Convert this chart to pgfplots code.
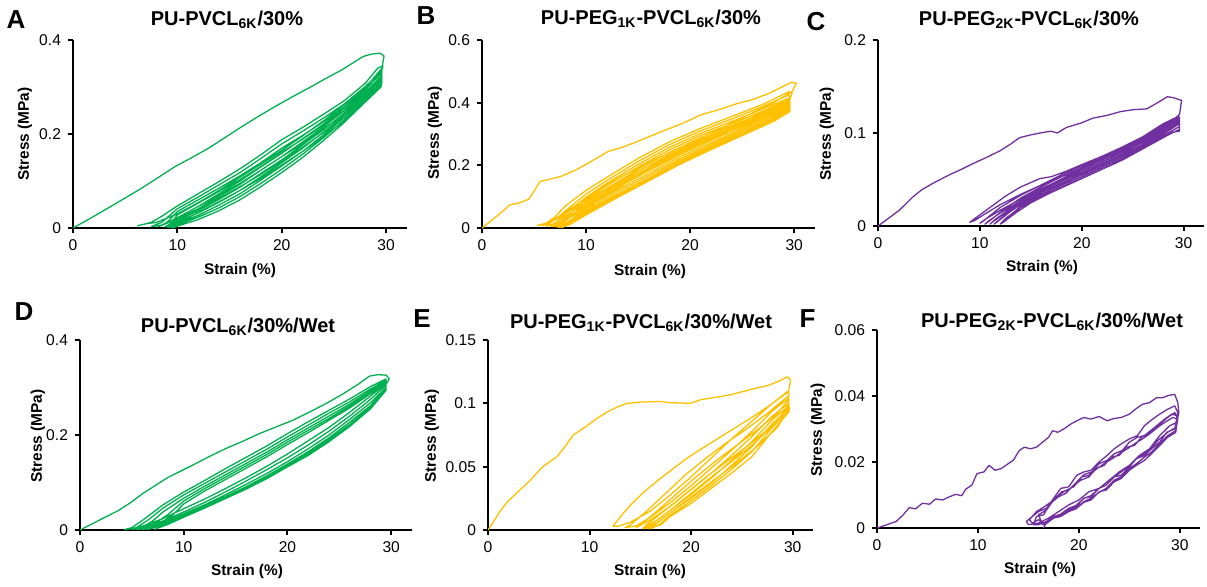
\documentclass[border=0pt]{standalone}
\usepackage{pgfplots}
\pgfplotsset{compat=1.18}
\usepackage{fontspec}
\setmainfont{Liberation Sans}
\setsansfont{Liberation Sans}

\definecolor{cgreen}{RGB}{0,176,80}
\definecolor{cyellow}{RGB}{255,192,0}
\definecolor{cpurple}{RGB}{112,48,160}

\pgfplotsset{
  panel/.style={
    scale only axis,
    axis lines=left,
    axis line style={line width=1.3pt,-},
    xmin=0, xmax=32, ymin=0,
    xtick={0,10,20,30},
    tick align=outside,
    major tick length=2.5pt,
    tick style={black,line width=1pt},
    ticklabel style={font=\fontsize{7.8}{9}\selectfont},
    scaled y ticks=false,
    /pgf/number format/assume math mode=true,
    /pgf/number format/fixed,
    /pgf/number format/precision=2,
    anchor=south west,
  },
  loop/.style={line width=0.65pt, line join=round, no markers},
}
\newcommand\ttl[1]{\fontsize{10}{12}\selectfont\bfseries #1}
\newcommand\lab{\fontsize{7.7}{9}\selectfont\bfseries}
\newcommand\letter{\fontsize{13}{15}\selectfont\bfseries}

\begin{document}
\begin{tikzpicture}

% ---------------- A ----------------
\begin{axis}[panel, at={(36.5pt,-114pt)}, width=167pt, height=94pt,
  ymax=0.4, ytick={0,0.2,0.4}]
\addplot[loop, cgreen] coordinates {
(0,0)(1.7,0.021)(3.4,0.043)(5,0.064)(6.6,0.085)(8.2,0.108)(9.8,0.131)(11.4,0.15)(13,0.17)(14.6,0.193)(16.2,0.216)(17.8,0.238)(19.4,0.259)(21,0.279)(22.6,0.298)(24.2,0.318)(25.8,0.337)(26.8,0.351)(27.8,0.365)(28.6,0.37)(29.4,0.372)(29.8,0.366)
(29.6,0.34)(28,0.298)(26,0.262)(24,0.228)(22,0.196)(20,0.165)(18,0.136)(16,0.108)(14,0.08)(12,0.054)(10,0.03)(8,0.012)(7,0.009)(6.2,0.005)
(6.8,0.008)(7.5,0.012)(8.5,0.025)(10,0.047)(12,0.073)(14,0.099)(16,0.126)(18,0.156)(20,0.188)(22,0.214)(24,0.242)(26,0.271)(28,0.308)(29.2,0.34)(29.7,0.345)
(29.5,0.33)(28,0.293)(26,0.255)(24,0.221)(22,0.19)(20,0.159)(18,0.13)(16,0.1)(14,0.073)(12,0.046)(10,0.022)(8.5,0.006)(7.5,0.003)
(8.5,0.012)(10,0.041)(12,0.066)(14,0.092)(16,0.118)(18,0.148)(20,0.179)(22,0.206)(24,0.234)(26,0.264)(28,0.301)(29.6,0.335)
(29.5,0.32)(28,0.289)(26,0.25)(24,0.215)(22,0.183)(20,0.152)(18,0.123)(16,0.093)(14,0.067)(12,0.041)(10,0.019)(8.2,0.003)
(9,0.012)(10,0.035)(12,0.06)(14,0.085)(16,0.111)(18,0.139)(20,0.17)(22,0.197)(24,0.226)(26,0.257)(28,0.295)(29.6,0.33)
(29.5,0.315)(28,0.285)(26,0.245)(24,0.209)(22,0.177)(20,0.145)(18,0.116)(16,0.087)(14,0.061)(12,0.037)(10,0.016)(8.8,0.002)
(9.4,0.01)(10,0.028)(12,0.053)(14,0.078)(16,0.103)(18,0.131)(20,0.161)(22,0.189)(24,0.219)(26,0.25)(28,0.288)(29.6,0.325)
(29.5,0.31)(28,0.28)(26,0.24)(24,0.204)(22,0.17)(20,0.139)(18,0.109)(16,0.08)(14,0.055)(12,0.032)(10,0.013)(9.1,0.001)
(10,0.022)(12,0.046)(14,0.07)(16,0.095)(18,0.123)(20,0.152)(22,0.18)(24,0.211)(26,0.242)(28,0.281)(29.6,0.32)
(29.5,0.305)(28,0.276)(26,0.235)(24,0.198)(22,0.163)(20,0.132)(18,0.102)(16,0.073)(14,0.049)(12,0.027)(10,0.01)(9.3,0.001)
(10,0.016)(12,0.04)(14,0.063)(16,0.088)(18,0.114)(20,0.143)(22,0.172)(24,0.203)(26,0.235)(28,0.275)(29.6,0.315)
(29.5,0.302)(28,0.272)(26,0.23)(24,0.192)(22,0.157)(20,0.125)(18,0.095)(16,0.067)(14,0.043)(12,0.023)(10,0.007)(9.5,0.0)
(10,0.01)(12,0.033)(14,0.056)(16,0.08)(18,0.106)(20,0.134)(22,0.163)(24,0.195)(26,0.228)(28,0.268)(29.6,0.31)
(29.5,0.3)(28,0.268)(26,0.225)(24,0.186)(22,0.15)(20,0.118)(18,0.088)(16,0.06)(14,0.037)(12,0.018)(10,0.004)(9.6,0.0)
};
\end{axis}

% ---------------- B ----------------
\begin{axis}[panel, at={(241pt,-114pt)}, width=166.5pt, height=94pt,
  ymax=0.6, ytick={0,0.2,0.4,0.6}]
\addplot[loop, cyellow] coordinates {
(0,0)(1.5,0.04)(2.7,0.074)(3.6,0.08)(4.5,0.092)(5.6,0.149)(6.3,0.154)(7.6,0.165)(9,0.185)(10.2,0.207)(12.1,0.244)(13.5,0.258)(14.7,0.273)(16.9,0.303)(19.2,0.333)(21.1,0.362)(22.5,0.375)(24.4,0.396)(26,0.41)(27.6,0.43)(29.3,0.458)(29.7,0.465)(30.2,0.462)
(29.8,0.435)(28,0.4)(26,0.368)(24,0.335)(22,0.302)(20,0.272)(18,0.24)(16,0.208)(14,0.175)(12,0.138)(10,0.095)(8,0.05)(6.5,0.018)(5.3,0.008)
(6,0.012)(7,0.035)(8,0.07)(10,0.12)(12,0.162)(15,0.222)(18,0.275)(21,0.318)(24,0.356)(27,0.395)(29.5,0.435)(29.8,0.43)
(29.5,0.405)(28,0.385)(25,0.338)(22,0.292)(19,0.248)(16,0.198)(13,0.145)(10,0.088)(8,0.045)(6.5,0.016)(5.8,0.008)
(6.5,0.014)(7.5,0.04)(8.5,0.068)(10,0.108)(12,0.152)(15,0.212)(18,0.266)(21,0.31)(24,0.348)(27,0.388)(29.5,0.425)
(29.6,0.41)(28,0.378)(25,0.332)(22,0.286)(19,0.241)(16,0.19)(13,0.138)(10,0.08)(8,0.038)(6.8,0.012)(6.2,0.006)
(7,0.014)(8,0.045)(10,0.098)(12,0.143)(15,0.203)(18,0.257)(21,0.302)(24,0.34)(27,0.38)(29.5,0.415)
(29.6,0.4)(28,0.37)(25,0.325)(22,0.279)(19,0.234)(16,0.182)(13,0.13)(10,0.072)(8,0.03)(7,0.01)(6.6,0.005)
(7.3,0.012)(8.2,0.038)(10,0.09)(12,0.135)(15,0.195)(18,0.249)(21,0.295)(24,0.333)(27,0.373)(29.5,0.41)
(29.6,0.395)(28,0.363)(25,0.318)(22,0.272)(19,0.227)(16,0.174)(13,0.122)(10,0.065)(8,0.024)(7.2,0.008)(6.9,0.004)
(7.6,0.012)(8.5,0.035)(10,0.082)(12,0.127)(15,0.187)(18,0.241)(21,0.288)(24,0.327)(27,0.366)(29.5,0.4)
(29.6,0.388)(28,0.357)(25,0.312)(22,0.266)(19,0.22)(16,0.167)(13,0.115)(10,0.058)(8.5,0.025)(7.5,0.006)(7.2,0.003)
(7.8,0.01)(8.8,0.032)(10,0.075)(12,0.12)(15,0.18)(18,0.234)(21,0.282)(24,0.321)(27,0.36)(29.5,0.395)
(29.6,0.383)(28,0.351)(25,0.306)(22,0.26)(19,0.214)(16,0.16)(13,0.108)(10,0.052)(8.5,0.02)(7.6,0.004)(7.4,0.002)
(8,0.01)(9,0.03)(10,0.068)(12,0.113)(15,0.173)(18,0.228)(21,0.276)(24,0.316)(27,0.355)(29.5,0.39)
(29.6,0.378)(28,0.346)(25,0.3)(22,0.255)(19,0.208)(16,0.154)(13,0.102)(10,0.046)(8.5,0.015)(7.7,0.002)
(8.2,0.008)(9.2,0.028)(10,0.062)(12,0.107)(15,0.167)(18,0.222)(21,0.27)(24,0.31)(27,0.35)(29.5,0.385)
(29.6,0.372)(28,0.34)(25,0.295)(22,0.25)(19,0.203)(16,0.15)(13,0.097)(10,0.042)(8.5,0.012)(7.6,0.002)
};
\end{axis}

% ---------------- C ----------------
\begin{axis}[panel, at={(439pt,-113pt)}, width=163pt, height=93pt,
  ymax=0.2, ytick={0,0.1,0.2}]
\addplot[loop, cpurple] coordinates {
(0,0)(1,0.008)(2.1,0.017)(3.4,0.031)(4.3,0.039)(5.4,0.046)(7,0.055)(8.2,0.061)(9.3,0.067)(10.5,0.073)(12,0.081)(13,0.088)(13.9,0.095)(15,0.098)(15.9,0.1)(17,0.102)(17.6,0.1)(18.5,0.106)(20,0.111)(21.1,0.116)(22.5,0.119)(23.8,0.123)(25,0.125)(26.4,0.126)(27.5,0.133)(28.4,0.139)(29,0.138)(29.8,0.135)
(29.6,0.12)(28,0.105)(26,0.093)(24,0.083)(22,0.072)(20,0.062)(18,0.053)(16,0.044)(14,0.034)(12,0.023)(10.5,0.013)(9.5,0.006)(9,0.004)
(9.5,0.008)(11,0.02)(12.5,0.032)(14,0.042)(15.9,0.051)(17,0.053)(18.5,0.059)(20,0.066)(22,0.075)(24,0.085)(26,0.096)(28,0.11)(29.5,0.118)
(29.6,0.113)(28,0.103)(26,0.09)(24,0.079)(22,0.069)(20,0.059)(18,0.05)(16,0.04)(14,0.029)(12,0.017)(10.5,0.007)(10,0.003)
(10.3,0.005)(12,0.02)(14,0.033)(16,0.044)(18,0.055)(20,0.065)(22,0.074)(24,0.084)(26,0.095)(28,0.108)(29.6,0.117)
(29.6,0.112)(28,0.101)(26,0.088)(24,0.077)(22,0.067)(20,0.057)(18,0.048)(16,0.038)(14,0.027)(12,0.014)(10.8,0.005)(10.5,0.002)
(11,0.006)(12.5,0.019)(14,0.03)(16,0.042)(18,0.053)(20,0.063)(22,0.073)(24,0.083)(26,0.093)(28,0.106)(29.6,0.116)
(29.6,0.11)(28,0.099)(26,0.087)(24,0.075)(22,0.065)(20,0.055)(18,0.046)(16,0.036)(14,0.025)(12.5,0.014)(11.2,0.004)(11,0.002)
(11.5,0.007)(13,0.019)(15,0.033)(17,0.045)(19,0.056)(21,0.066)(23,0.076)(25,0.087)(27,0.099)(28.5,0.108)(29.6,0.114)
(29.6,0.107)(28,0.097)(26,0.085)(24,0.073)(22,0.063)(20,0.053)(18,0.044)(16,0.034)(14,0.023)(12.5,0.012)(11.6,0.004)(11.4,0.002)
(12,0.007)(13.5,0.02)(15,0.031)(17,0.043)(19,0.054)(21,0.064)(23,0.074)(25,0.085)(27,0.097)(28.5,0.106)(29.6,0.112)
(29.6,0.104)(28.5,0.098)(26,0.083)(24,0.071)(22,0.061)(20,0.051)(18,0.042)(16,0.032)(14,0.021)(12.8,0.01)(12,0.002)
(12.5,0.008)(14,0.02)(16,0.033)(18,0.045)(20,0.056)(22,0.066)(24,0.077)(26,0.088)(28,0.1)(29.6,0.11)
(29.6,0.102)(29,0.101)(27,0.09)(25,0.077)(23,0.066)(21,0.056)(19,0.046)(17,0.036)(15,0.025)(13.5,0.014)(12.3,0.004)(12,0.002)
};
\end{axis}

% ---------------- D ----------------
\begin{axis}[panel, at={(40pt,-265pt)}, width=166pt, height=95pt,
  ymax=0.4, ytick={0,0.2,0.4}]
\addplot[loop, cgreen] coordinates {
(0,0)(1.8,0.02)(3.7,0.041)(4.9,0.058)(6,0.076)(7.2,0.093)(8.5,0.111)(9.7,0.124)(10.8,0.136)(12.4,0.154)(14,0.171)(15.7,0.187)(17.3,0.203)(18.9,0.217)(20.5,0.231)(22.1,0.248)(23.7,0.266)(25.3,0.286)(26.9,0.308)(27.9,0.324)(28.7,0.327)(29.5,0.326)(29.8,0.319)
(29.6,0.31)(28,0.282)(26,0.248)(24,0.216)(22,0.188)(20,0.16)(18,0.134)(16,0.11)(14,0.087)(12,0.065)(10,0.045)(8,0.024)(6,0.008)(5,0.003)(4.3,0.001)
(5,0.005)(6,0.02)(8,0.053)(10,0.08)(12,0.104)(14,0.129)(16,0.153)(18,0.177)(20,0.203)(22,0.228)(24,0.252)(26,0.276)(28,0.302)(29.5,0.318)
(29.5,0.305)(28,0.275)(26,0.24)(24,0.208)(22,0.179)(20,0.152)(18,0.127)(16,0.103)(14,0.08)(12,0.058)(10,0.038)(8,0.019)(6,0.005)(5,0.001)
(5.5,0.006)(6.5,0.02)(8,0.046)(10,0.074)(12,0.098)(14,0.122)(16,0.146)(18,0.17)(20,0.196)(22,0.221)(24,0.246)(26,0.27)(28,0.297)(29.5,0.315)
(29.5,0.3)(28,0.268)(26,0.233)(24,0.2)(22,0.171)(20,0.144)(18,0.119)(16,0.096)(14,0.074)(12,0.053)(10,0.034)(8,0.016)(6.5,0.005)(5.5,0.001)
(6,0.006)(7,0.019)(8,0.038)(10,0.067)(12,0.092)(14,0.116)(16,0.14)(18,0.164)(20,0.19)(22,0.215)(24,0.24)(26,0.265)(28,0.293)(29.5,0.312)
(29.5,0.298)(28,0.262)(26,0.227)(24,0.194)(22,0.165)(20,0.139)(18,0.114)(16,0.091)(14,0.07)(12,0.05)(10,0.031)(8,0.013)(6.8,0.004)(6,0.001)
(6.5,0.006)(7.5,0.018)(8.5,0.033)(10,0.061)(12,0.087)(14,0.111)(16,0.135)(18,0.159)(20,0.185)(22,0.21)(24,0.235)(26,0.261)(28,0.29)(29.5,0.31)
(29.5,0.296)(28,0.258)(26,0.222)(24,0.19)(22,0.161)(20,0.135)(18,0.11)(16,0.088)(14,0.067)(12,0.047)(10,0.028)(8,0.011)(7,0.004)(6.5,0.001)
(7,0.006)(8,0.018)(9,0.033)(10,0.055)(12,0.082)(14,0.106)(16,0.13)(18,0.154)(20,0.18)(22,0.205)(24,0.231)(26,0.257)(28,0.287)(29.5,0.307)
(29.5,0.294)(28,0.255)(26,0.218)(24,0.186)(22,0.157)(20,0.133)(18,0.108)(16,0.086)(14,0.066)(12,0.046)(10,0.027)(8.5,0.012)(7.5,0.004)(7.2,0.001)
};
\end{axis}

% ---------------- E ----------------
\begin{axis}[panel, at={(244pt,-265pt)}, width=162.5pt, height=95pt,
  ymax=0.15, ytick={0,0.05,0.1,0.15}]
\addplot[loop, cyellow] coordinates {
(0,0)(0.5,0.006)(1.2,0.015)(2,0.023)(2.8,0.029)(4,0.038)(5.4,0.05)(6.1,0.054)(6.8,0.058)(7.6,0.066)(8.4,0.075)(9.7,0.082)(10.7,0.088)(11.7,0.093)(12.7,0.097)(13.7,0.1)(15,0.101)(17,0.1015)(18,0.1005)(19.9,0.1)(21,0.103)(22.6,0.105)(24,0.107)(25.9,0.111)(27.5,0.114)(28.5,0.117)(29.5,0.121)(29.8,0.118)
(29.6,0.11)(28,0.1)(26,0.086)(24,0.072)(22,0.057)(20,0.042)(18,0.028)(16,0.015)(14,0.006)(12.8,0.003)(12.3,0.003)
(12.5,0.005)(13.3,0.013)(14.3,0.022)(15.5,0.031)(16.7,0.039)(18,0.047)(19.3,0.055)(20.6,0.062)(22,0.069)(24.2,0.08)(26,0.089)(27.5,0.097)(29.2,0.107)(29.6,0.109)
(29.6,0.104)(28,0.094)(26,0.078)(24,0.063)(22,0.049)(20,0.035)(18,0.022)(16,0.01)(14.5,0.003)(13.5,0.002)
(14,0.004)(15.5,0.014)(17.5,0.029)(19.5,0.044)(21.5,0.057)(23.5,0.069)(25.5,0.08)(27.5,0.092)(29.6,0.106)
(29.6,0.1)(28,0.09)(26,0.074)(24,0.059)(22,0.045)(20,0.032)(18,0.019)(16,0.008)(14.6,0.002)
(15,0.004)(16.5,0.014)(18.5,0.028)(20.5,0.042)(22.5,0.055)(24.5,0.067)(26.5,0.079)(28.5,0.092)(29.6,0.103)
(29.6,0.098)(28,0.087)(26,0.07)(24,0.055)(22,0.041)(20,0.028)(18,0.016)(16.5,0.007)(15.2,0.001)
(15.6,0.004)(17.5,0.016)(19.5,0.029)(21.5,0.042)(23.5,0.054)(25.5,0.066)(27.5,0.079)(29,0.091)(29.6,0.1)
(29.6,0.096)(28,0.084)(26,0.066)(24,0.051)(22,0.037)(20,0.025)(18,0.014)(16.5,0.005)(15.5,0.001)
(16,0.004)(18,0.016)(20,0.029)(22,0.042)(24,0.054)(26,0.067)(28,0.082)(29.6,0.098)
(29.6,0.094)(28,0.081)(26,0.062)(24,0.048)(22,0.035)(20,0.023)(18,0.012)(16.8,0.004)(16,0.001)
(16.4,0.004)(18.5,0.017)(20.5,0.029)(22.5,0.041)(24.5,0.053)(26.5,0.066)(28.5,0.081)(29.7,0.097)
(29.6,0.093)(28,0.078)(26,0.058)(24,0.045)(22,0.033)(20,0.021)(18,0.011)(17,0.004)(15.8,0.001)
};
\end{axis}

% ---------------- F ----------------
\begin{axis}[panel, at={(438.5pt,-264pt)}, width=161.5pt, height=99pt,
  ymax=0.06, ytick={0,0.02,0.04,0.06}]
\addplot[loop, cpurple] coordinates {
(0,0)(0.8,0.0008)(1.9,0.002)(2.6,0.004)(3.2,0.0062)(3.8,0.0058)(4.5,0.0075)(5.2,0.0072)(5.8,0.0088)(6.5,0.0085)(7.2,0.0095)(7.8,0.0102)(8.4,0.0098)(8.8,0.0118)(9.4,0.013)(9.9,0.0165)(10.6,0.017)(11.1,0.019)(11.7,0.0175)(12.3,0.018)(13,0.0195)(13.5,0.0205)(14.1,0.0235)(14.6,0.0245)(15.2,0.024)(15.8,0.0245)(16.4,0.026)(17,0.0275)(17.4,0.0295)(17.9,0.029)(18.5,0.03)(19.2,0.0315)(19.8,0.0325)(20.5,0.0335)(21.2,0.033)(22,0.0338)(22.8,0.0325)(23.5,0.0332)(24.2,0.0335)(25,0.0345)(25.6,0.036)(26.3,0.0375)(27,0.038)(27.7,0.0395)(28.3,0.0395)(28.9,0.0402)(29.5,0.0405)(29.8,0.038)(29.9,0.035)
(29.7,0.032)(29,0.031)(28,0.028)(27,0.024)(26,0.022)(25,0.019)(24,0.017)(23,0.0145)(22,0.012)(21,0.011)(20,0.0085)(19,0.007)(18,0.005)(17,0.003)(16,0.0015)(15,0.001)(14.8,0.002)
(15.2,0.003)(16,0.005)(16.8,0.006)(17.5,0.009)(18.2,0.012)(19,0.0125)(19.8,0.016)(20.5,0.017)(21.2,0.0175)(22,0.02)(22.8,0.022)(23.5,0.024)(24.2,0.0255)(25,0.027)(25.8,0.028)(26.5,0.031)(27.3,0.033)(28,0.0345)(28.8,0.036)(29.5,0.037)(29.8,0.035)
(29.5,0.03)(28.7,0.029)(28,0.026)(27.2,0.024)(26.5,0.022)(25.7,0.021)(25,0.0185)(24.2,0.016)(23.5,0.0155)(22.7,0.013)(22,0.012)(21.2,0.0095)(20.5,0.009)(19.7,0.0065)(19,0.006)(18.2,0.004)(17.5,0.0035)(16.8,0.002)(16,0.001)(15.5,0.001)
(15.8,0.0035)(16.5,0.004)(17.2,0.0075)(18,0.0095)(18.7,0.0105)(19.5,0.013)(20.2,0.0145)(21,0.0155)(21.7,0.018)(22.5,0.019)(23.2,0.0215)(24,0.022)(24.7,0.0245)(25.5,0.025)(26.2,0.0275)(27,0.029)(27.7,0.031)(28.5,0.033)(29.2,0.0345)(29.8,0.034)
(29.6,0.029)(28.8,0.0275)(28,0.025)(27.2,0.0225)(26.5,0.0205)(25.7,0.019)(25,0.0175)(24.2,0.015)(23.5,0.014)(22.7,0.0115)(22,0.011)(21.2,0.0085)(20.5,0.0078)(19.7,0.0058)(19,0.005)(18.2,0.0035)(17.5,0.003)(16.8,0.0015)(16.4,0.001)
(16,0.004)(16.8,0.0055)(17.5,0.0085)(18.3,0.011)(19,0.0115)(19.8,0.014)(20.5,0.0162)(21.3,0.017)(22,0.0195)(22.8,0.0205)(23.5,0.0225)(24.3,0.0235)(25,0.026)(25.8,0.0275)(26.5,0.028)(27.3,0.03)(28,0.0315)(28.8,0.0335)(29.5,0.035)(29.8,0.033)
(29.6,0.0295)(28.8,0.028)(28,0.0255)(27.2,0.023)(26.5,0.0215)(25.7,0.0195)(25,0.018)(24.2,0.0155)(23.5,0.0145)(22.7,0.012)(22,0.0108)(21.2,0.009)(20.5,0.008)(19.7,0.006)(19,0.0055)(18.2,0.0038)(17.5,0.003)(16.7,0.0012)(16,0.0025)(15.4,0.0015)
(15.1,0.0025)(15.8,0.005)(16.6,0.0065)(17.3,0.008)(18,0.01)(18.8,0.0115)(19.5,0.0125)(20.3,0.0155)(21,0.016)(21.8,0.018)(22.5,0.0195)(23.3,0.021)(24,0.0225)(24.8,0.024)(25.5,0.0255)(26.3,0.027)(27,0.0285)(27.8,0.0305)(28.5,0.032)(29.3,0.0335)(29.8,0.033)
(29.6,0.0305)(28.8,0.029)(28,0.027)(27.2,0.0245)(26.5,0.0225)(25.7,0.021)(25,0.019)(24.2,0.017)(23.5,0.0155)(22.7,0.013)(22,0.012)(21.2,0.0098)(20.5,0.009)(19.7,0.0068)(19,0.006)(18.2,0.0042)(17.5,0.0035)(16.8,0.0018)(16.5,0.0)
};
\end{axis}

% panel letters
\node[anchor=center] at (8pt,-9.75pt) {\letter A};
\node[anchor=center] at (213pt,-7.75pt) {\letter B};
\node[anchor=center] at (408pt,-10.75pt) {\letter C};
\node[anchor=center] at (12pt,-155.75pt) {\letter D};
\node[anchor=center] at (211pt,-159.5pt) {\letter E};
\node[anchor=center] at (403.75pt,-159.25pt) {\letter F};

% titles
\node[anchor=base] at (113.5pt,-12.5pt) {\ttl{PU-PVCL\textsubscript{6K}/30\%}};
\node[anchor=base] at (325.5pt,-12pt) {\ttl{PU-PEG\textsubscript{1K}-PVCL\textsubscript{6K}/30\%}};
\node[anchor=base] at (514.5pt,-12.5pt) {\ttl{PU-PEG\textsubscript{2K}-PVCL\textsubscript{6K}/30\%}};
\node[anchor=base] at (119pt,-166pt) {\ttl{PU-PVCL\textsubscript{6K}/30\%/Wet}};
\node[anchor=base] at (320.5pt,-164pt) {\ttl{PU-PEG\textsubscript{1K}-PVCL\textsubscript{6K}/30\%/Wet}};
\node[anchor=base] at (526pt,-163.5pt) {\ttl{PU-PEG\textsubscript{2K}-PVCL\textsubscript{6K}/30\%/Wet}};

% x labels
\node at (120pt,-135.5pt) {\lab Strain (\%)};
\node at (325pt,-136pt) {\lab Strain (\%)};
\node at (521pt,-134pt) {\lab Strain (\%)};
\node at (123.5pt,-286pt) {\lab Strain (\%)};
\node at (325pt,-286pt) {\lab Strain (\%)};
\node at (520pt,-285pt) {\lab Strain (\%)};

% y labels
\node[rotate=90] at (12.5pt,-67pt) {\lab Stress (MPa)};
\node[rotate=90] at (217.5pt,-66.5pt) {\lab Stress (MPa)};
\node[rotate=90] at (413.5pt,-67pt) {\lab Stress (MPa)};
\node[rotate=90] at (19pt,-218pt) {\lab Stress (MPa)};
\node[rotate=90] at (216pt,-218pt) {\lab Stress (MPa)};
\node[rotate=90] at (409pt,-215pt) {\lab Stress (MPa)};

\pgfresetboundingbox
\path (0,0) rectangle (603.5pt,-293pt);
\end{tikzpicture}
\end{document}
